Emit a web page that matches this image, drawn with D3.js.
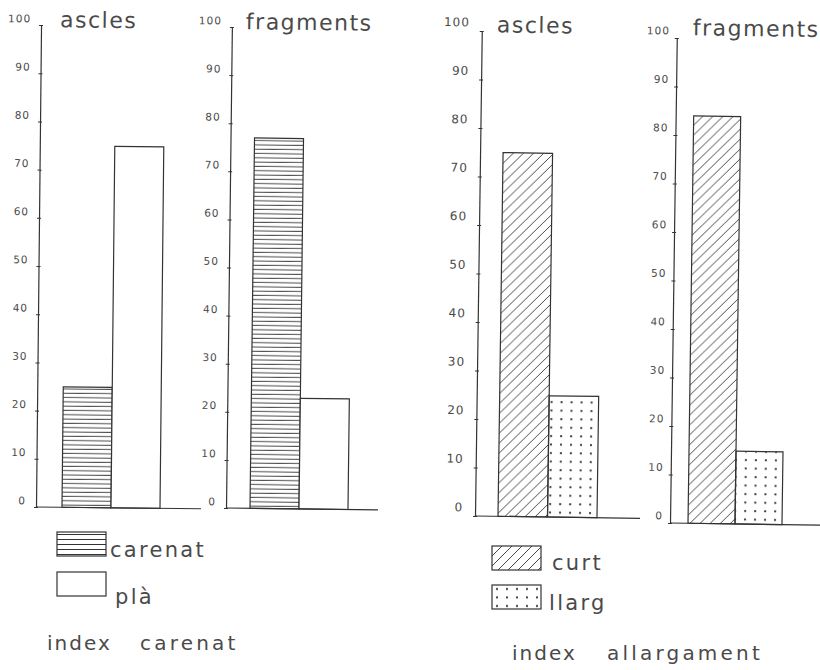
<!DOCTYPE html>
<html>
<head>
<meta charset="utf-8">
<script src="https://cdn.jsdelivr.net/npm/d3@7"></script>
<style>
  body { margin: 0; background: #fff; }
  text { font-family: "DejaVu Sans", sans-serif; fill: #4a4a4a; }
</style>
</head>
<body>
<div id="chart"></div>
<script>
// values (percent)
const titles = ["ascles", "fragments", "ascles", "fragments"];
const carenatSeries = ["carenat", "plà"];
const carenatAscles = [25, 75];
const carenatFragments = [77, 23];
const allargSeries = ["curt", "llarg"];
const allargAscles = [75, 25];
const allargFragments = [84, 15];
const tickValues = [0, 10, 20, 30, 40, 50, 60, 70, 80, 90, 100];
const footerLeft = ["index", "carenat"];
const footerRight = ["index", "allargament"];

const svgWidth = 820;
const svgHeight = 670;
const ink = "#333";

const svg = d3.select("#chart")
  .append("svg")
  .attr("width", svgWidth)
  .attr("height", svgHeight);

// hatch patterns
const defs = svg.append("defs");

const hl = defs.append("pattern").attr("id", "hlines")
  .attr("patternUnits", "userSpaceOnUse").attr("width", 10).attr("height", 4.3);
hl.append("line").attr("x1", 0).attr("x2", 10).attr("y1", 2).attr("y2", 2)
  .attr("stroke", ink).attr("stroke-width", 0.9);

const hl2 = defs.append("pattern").attr("id", "hlinesLeg")
  .attr("patternUnits", "userSpaceOnUse").attr("width", 10).attr("height", 5);
hl2.append("line").attr("x1", 0).attr("x2", 10).attr("y1", 2.5).attr("y2", 2.5)
  .attr("stroke", ink).attr("stroke-width", 1);

const dg = defs.append("pattern").attr("id", "diag")
  .attr("patternUnits", "userSpaceOnUse").attr("width", 10).attr("height", 10);
dg.append("path").attr("d", "M-1,11 L11,-1 M-6,6 L6,-6 M4,16 L16,4")
  .attr("stroke", ink).attr("stroke-width", 0.9);

const dt = defs.append("pattern").attr("id", "dots")
  .attr("patternUnits", "userSpaceOnUse").attr("width", 10).attr("height", 8.5);
dt.append("circle").attr("cx", 5).attr("cy", 4).attr("r", 1.1).attr("fill", ink);

const fills = {
  "carenat": "url(#hlines)",
  "plà": "#fff",
  "curt": "url(#diag)",
  "llarg": "url(#dots)"
};

// panel layout (origin = foot of the y axis)
const panels = [
  { title: titles[0], series: carenatSeries, values: carenatAscles,
    x0: 36, y0: 507, h: 482, bars: [26, 124], base: 165, tilt: 0.6, lab: 10.5, pad: 7, ldy: -3, tdx: 19, tdy: -480 },
  { title: titles[1], series: carenatSeries, values: carenatFragments,
    x0: 226, y0: 508, h: 481, bars: [24, 122], base: 152, tilt: 0.7, lab: 10.5, pad: 7, ldy: -3, tdx: 14, tdy: -479 },
  { title: titles[2], series: allargSeries, values: allargAscles,
    x0: 475, y0: 516, h: 485, bars: [23, 122], base: 165, tilt: 0.8, lab: 12, pad: 9, ldy: -5, tdx: 15, tdy: -484 },
  { title: titles[3], series: allargSeries, values: allargFragments,
    x0: 670, y0: 523, h: 485, bars: [18, 112], base: 150, tilt: 0.8, lab: 10.5, pad: 4, ldy: -4, tdx: 16, tdy: -488 }
];

panels.forEach(p => {
  const g = svg.append("g")
    .attr("transform", `translate(${p.x0},${p.y0}) rotate(${p.tilt})`);

  const y = d3.scaleLinear().domain([0, 100]).range([0, -p.h]);
  const x = d3.scaleBand().domain(p.series).range(p.bars).paddingInner(0);

  // bars
  g.selectAll("rect.bar")
    .data(p.series.map((s, i) => ({ s, v: p.values[i] })))
    .enter()
    .append("rect")
    .attr("class", "bar")
    .attr("x", d => x(d.s))
    .attr("y", d => y(d.v))
    .attr("width", x.bandwidth())
    .attr("height", d => y(0) - y(d.v))
    .attr("fill", d => fills[d.s])
    .attr("stroke", ink)
    .attr("stroke-width", 1.2);

  // y axis
  const axis = g.append("g")
    .call(d3.axisLeft(y).tickValues(tickValues).tickSize(3).tickSizeOuter(0).tickPadding(p.pad));
  axis.select(".domain").attr("stroke", ink).attr("stroke-width", 1.2);
  axis.selectAll(".tick line").attr("x2", 2).attr("x1", -2).attr("stroke", ink);
  axis.selectAll(".tick text")
    .attr("font-size", p.lab)
    .attr("dy", p.ldy)
    .attr("fill", "#555")
    .attr("letter-spacing", 1)
    .attr("font-family", "DejaVu Sans, sans-serif");

  // base line
  g.append("line")
    .attr("x1", 0).attr("x2", p.base)
    .attr("y1", y(0)).attr("y2", y(0))
    .attr("stroke", ink).attr("stroke-width", 1.2);

  // title
  g.append("text")
    .attr("x", p.tdx).attr("y", p.tdy)
    .attr("font-size", 22)
    .attr("letter-spacing", 1.5)
    .text(p.title);
});

// legends
const legends = [
  { items: carenatSeries, x: 57, y: 532, dy: 40, tx: [53, 58], ty: [25, 32], sw: { carenat: "url(#hlinesLeg)", "plà": "#fff" } },
  { items: allargSeries, x: 492, y: 546, dy: 39, tx: [60, 57], ty: [24, 25], sw: { curt: "url(#diag)", llarg: "url(#dots)" } }
];

legends.forEach(l => {
  const lg = svg.append("g").attr("transform", `translate(${l.x},${l.y})`);
  const item = lg.selectAll("g")
    .data(l.items)
    .enter()
    .append("g")
    .attr("transform", (d, i) => `translate(0,${i * l.dy})`);
  item.append("rect")
    .attr("width", 49).attr("height", 24)
    .attr("fill", d => l.sw[d])
    .attr("stroke", ink).attr("stroke-width", 1.2);
  item.append("text")
    .attr("x", (d, i) => l.tx[i]).attr("y", (d, i) => l.ty[i])
    .attr("font-size", 21)
    .attr("letter-spacing", 2.3)
    .text(d => d);
});

// footers
const footers = [
  { words: footerLeft, x: [47, 140], y: 650 },
  { words: footerRight, x: [512, 607], y: 660 }
];
footers.forEach(f => {
  svg.selectAll(null)
    .data(f.words)
    .enter()
    .append("text")
    .attr("x", (d, i) => f.x[i])
    .attr("y", f.y)
    .attr("font-size", 20)
    .attr("letter-spacing", (d, i) => i === 0 ? 2 : 3.2)
    .text(d => d);
});
</script>
</body>
</html>
